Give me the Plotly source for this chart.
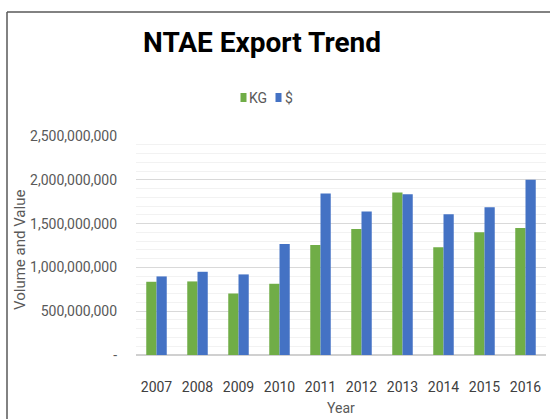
import plotly.graph_objects as go

years = ["2007", "2008", "2009", "2010", "2011", "2012", "2013", "2014", "2015", "2016"]
kg = [836e6, 840e6, 702e6, 813e6, 1256e6, 1439e6, 1855e6, 1229e6, 1401e6, 1450e6]
usd = [897e6, 950e6, 920e6, 1267e6, 1844e6, 1637e6, 1836e6, 1607e6, 1687e6, 2000e6]
y_tickvals = [0, 500e6, 1000e6, 1500e6, 2000e6, 2500e6]
y_ticktext = ["-", "500,000,000", "1,000,000,000", "1,500,000,000", "2,000,000,000", "2,500,000,000"]
series_names = ["KG", "$"]
series_colors = ["#70AD47", "#4472C4"]

FONT = "Roboto, Arial, sans-serif"
GRAY = "#595959"

W, H = 550, 419
L, R, T, B = 136, 4, 136, 64
pw, ph = W - L - R, H - T - B

def px(x):
    return (x - L) / pw

def py(y):
    return (H - B - y) / ph

fig = go.Figure()
for name, vals, col in zip(series_names, [kg, usd], series_colors):
    fig.add_trace(go.Bar(x=years, y=vals, name=name, showlegend=False,
                         marker=dict(color=col, line=dict(width=0))))

# manual legend (square + label) to match the compact spacing
legend_shapes = []
legend_ann = []
for (sx, tx), name, col in zip([(240.5, 247), (275.5, 283)], series_names, series_colors):
    legend_shapes.append(dict(type="rect", xref="paper", yref="paper",
                              x0=px(sx), x1=px(sx + 6), y0=py(102), y1=py(93),
                              fillcolor=col, line=dict(width=0)))
    legend_ann.append(dict(text=name, xref="paper", yref="paper", x=px(tx), y=py(98),
                           xanchor="left", yanchor="middle", showarrow=False,
                           font=dict(size=14, color=GRAY)))

fig.update_layout(
    width=W, height=H,
    margin=dict(l=L, r=R, t=T, b=B),
    paper_bgcolor="white", plot_bgcolor="white",
    barmode="group", bargap=0.5, bargroupgap=0,
    showlegend=False,
    font=dict(family=FONT, color=GRAY, size=14),
    title=dict(text="<b>NTAE Export Trend</b>", x=262 / W, xanchor="center",
               y=1 - 42 / H, yanchor="middle",
               font=dict(family=FONT, size=28, color="black")),
    xaxis=dict(showgrid=False, showline=False, ticks="", tickfont=dict(size=14, color="#404040"),
               ticklabelstandoff=22),
    yaxis=dict(range=[0, 2.5e9], tickvals=y_tickvals, ticktext=y_ticktext,
               showgrid=True, gridcolor="#D9D9D9", gridwidth=1,
               zeroline=True, zerolinecolor="#D0D0D0", zerolinewidth=1.5,
               showline=False, ticks="", ticklabelstandoff=18,
               tickfont=dict(size=14, color=GRAY),
               minor=dict(dtick=1e8, tick0=0, showgrid=True, gridcolor="#F2F2F2", gridwidth=1)),
    annotations=[
        dict(text="Volume and Value", textangle=-90, xref="paper", yref="paper",
             x=px(20), y=py(250), xanchor="center", yanchor="middle", showarrow=False,
             font=dict(size=15, color=GRAY)),
        dict(text="Year", xref="paper", yref="paper", x=px(341), y=py(408),
             xanchor="center", yanchor="middle", showarrow=False,
             font=dict(size=14, color=GRAY)),
    ] + legend_ann,
    shapes=[
        dict(type="line", xref="paper", yref="paper", x0=px(7), x1=px(7), y0=py(12), y1=py(425),
             line=dict(color="#595959", width=1.5)),
        dict(type="line", xref="paper", yref="paper", x0=px(7), x1=px(560), y0=py(12), y1=py(12),
             line=dict(color="#595959", width=1.5)),
    ] + legend_shapes,
)

fig.write_html("out.html")
